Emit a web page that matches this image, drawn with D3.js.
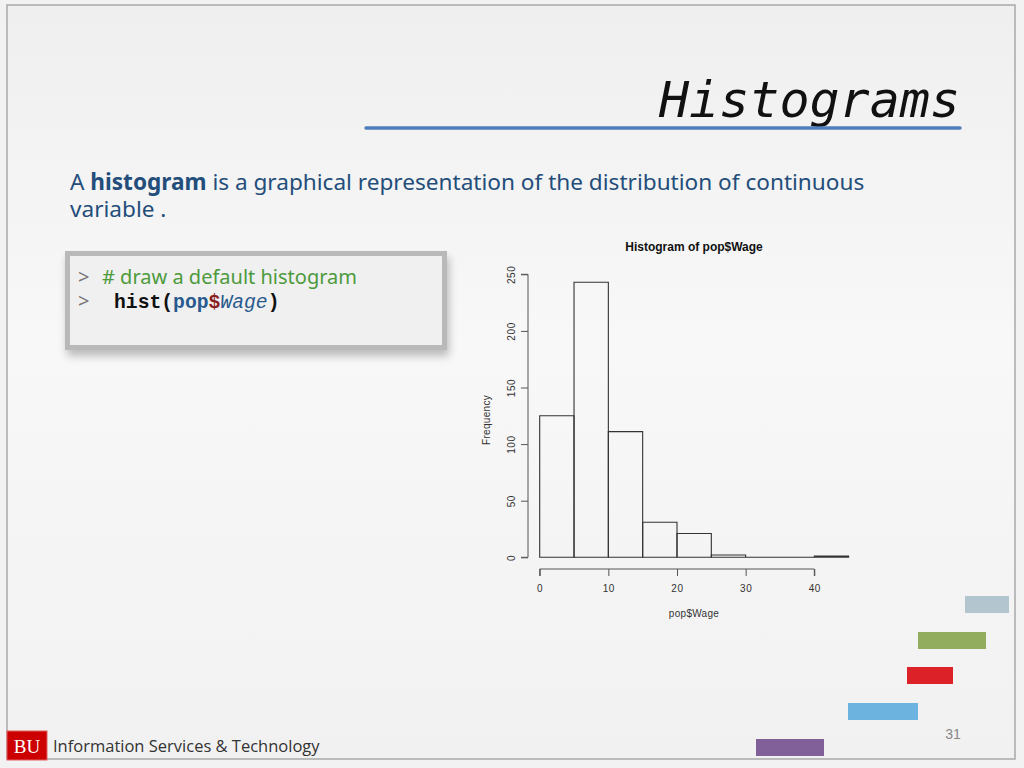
<!DOCTYPE html>
<html><head><meta charset="utf-8">
<script src="https://cdn.jsdelivr.net/npm/d3@7"></script>
<style>html,body{margin:0;padding:0;background:#f3f3f3;}svg{display:block;}</style>
</head><body>
<script>
// ---- data ----
const binBreaks = [0,5,10,15,20,25,30,35,40,45];
const binCounts = [125,243,111,31,21,2,0,0,1];
const xTickValues = [0,10,20,30,40];
const yTickValues = [0,50,100,150,200,250];
const chartTitle = "Histogram of pop$Wage";
const xLabel = "pop$Wage";
const yLabel = "Frequency";
const slideTitle = "Histograms";
const pageNumber = "31";
const decoColors = ["#b3c6cf","#93ad5e","#dc2128","#6db3df","#815f99"];

const W=1024,H=768;
const svg=d3.select("body").append("svg").attr("width",W).attr("height",H);
const defs=svg.append("defs");
const g=defs.append("linearGradient").attr("id","bg").attr("x1",0).attr("y1",0).attr("x2",0).attr("y2",1);
g.append("stop").attr("offset","0").attr("stop-color","#efefef");
g.append("stop").attr("offset","0.45").attr("stop-color","#f8f8f8");
g.append("stop").attr("offset","1").attr("stop-color","#f1f1f1");
const sh=defs.append("filter").attr("id","sh").attr("x","-10%").attr("y","-10%").attr("width","130%").attr("height","140%");
sh.append("feGaussianBlur").attr("in","SourceAlpha").attr("stdDeviation",4).attr("result","b");
sh.append("feOffset").attr("in","b").attr("dx",2).attr("dy",6).attr("result","o");
sh.append("feComponentTransfer").attr("in","o").attr("result","o2").append("feFuncA").attr("type","linear").attr("slope",0.25);
const mg=sh.append("feMerge");mg.append("feMergeNode").attr("in","o2");mg.append("feMergeNode").attr("in","SourceGraphic");

svg.append("rect").attr("width",W).attr("height",H).attr("fill","#f2f2f2");
svg.append("rect").attr("x",7).attr("y",5).attr("width",1008).attr("height",754).attr("fill","url(#bg)")
  .attr("stroke","#a9a9a9").attr("stroke-width",1.5);

// slide title
svg.append("text").attr("x",960).attr("y",117).attr("text-anchor","end")
  .attr("font-family","DejaVu Sans Mono").attr("font-style","italic").attr("font-size",50)
  .attr("fill","#111").text(slideTitle);
svg.append("line").attr("x1",366).attr("x2",960).attr("y1",128).attr("y2",128)
  .attr("stroke","#4f7fbb").attr("stroke-width",3.5).attr("stroke-linecap","round");

// body text
const body=svg.append("text").attr("font-family","Noto Sans, Open Sans, sans-serif").attr("font-size",22.6).attr("fill","#234d7a");
const l1=body.append("tspan").attr("x",70).attr("y",190);
l1.append("tspan").text("A ");
l1.append("tspan").attr("font-weight","bold").text("histogram");
l1.append("tspan").text(" is a graphical representation of the distribution of continuous");
body.append("tspan").attr("x",70).attr("y",217).text("variable .");

// code box
svg.append("rect").attr("x",67.5).attr("y",253.5).attr("width",377).attr("height",94)
  .attr("fill","#f0f0f0").attr("stroke","#b9b9b9").attr("stroke-width",5).attr("filter","url(#sh)");
const c1=svg.append("text").attr("x",78).attr("y",284).attr("font-family","Noto Sans, sans-serif").attr("font-size",20);
c1.append("tspan").attr("fill","#777").text(">");
c1.append("tspan").attr("fill","#4d9a3d").attr("x",102).text("# draw a default histogram");
svg.append("text").attr("x",78).attr("y",308).attr("font-family","Noto Sans, sans-serif").attr("font-size",20).attr("fill","#777").text(">");
const c2=svg.append("text").attr("x",114).attr("y",308).attr("font-family","Liberation Mono, monospace").attr("font-size",19.7).attr("font-weight","bold");
c2.append("tspan").attr("fill","#111").text("hist(");
c2.append("tspan").attr("fill","#285a8e").text("pop");
c2.append("tspan").attr("fill","#8a1d1d").text("$");
c2.append("tspan").attr("fill","#285a8e").attr("font-weight","normal").attr("font-style","italic").text("Wage");
c2.append("tspan").attr("fill","#111").text(")");

// histogram chart
const x=d3.scaleLinear().domain([0,40]).range([539.7,814.3]);
const y=d3.scaleLinear().domain([0,250]).range([557.3,274.3]);
const bins=binCounts.map((c,i)=>({x0:binBreaks[i],x1:binBreaks[i+1],n:c}));
const ch=svg.append("g");
ch.selectAll("path.bar").data(bins).join("path").attr("class","bar")
  .attr("d",d=>`M${x(d.x0)},${y(0)}V${y(d.n)}H${x(d.x1)}V${y(0)}Z`)
  .attr("fill","none").attr("stroke","#333").attr("stroke-width",1.1);

const font="Liberation Sans, Arial, sans-serif";
const xa=ch.append("g").attr("transform","translate(0,569)")
  .call(d3.axisBottom(x).tickValues(xTickValues).tickSize(7).tickPadding(9).tickFormat(d3.format("d")));
const ya=ch.append("g").attr("transform","translate(528,0)")
  .call(d3.axisLeft(y).tickValues(yTickValues).tickSize(7).tickFormat(d3.format("d")));
[xa,ya].forEach(a=>{a.select(".domain").attr("stroke","#555");a.selectAll(".tick line").attr("stroke","#555");
  a.selectAll("text").attr("font-family",font).attr("font-size",10).attr("fill","#333").attr("letter-spacing",0.6);});
xa.select(".domain").attr("d",`M${x(0)},7V0H${x(40)}V7`);
ya.select(".domain").attr("d",`M-7,${y(0)}H0V${y(250)}H-7`);
ya.selectAll(".tick text").attr("x",null).attr("dy",null).attr("text-anchor","middle")
  .attr("transform","translate(-17,0) rotate(-90)").attr("dy","0.35em");
ch.append("text").attr("x",694).attr("y",251).attr("text-anchor","middle").attr("font-family",font)
  .attr("font-weight","bold").attr("font-size",12).attr("fill","#111").text(chartTitle);
ch.append("text").attr("x",694).attr("y",617).attr("text-anchor","middle").attr("font-family",font)
  .attr("font-size",10).attr("fill","#333").attr("letter-spacing",0.3).text(xLabel);
ch.append("text").attr("transform","translate(490,420) rotate(-90)").attr("text-anchor","middle").attr("font-family",font)
  .attr("font-size",10).attr("fill","#333").attr("letter-spacing",0.3).text(yLabel);

// decorative bars
const deco=[{x:965,y:596,w:44},{x:918,y:632,w:68},{x:907,y:667,w:46},{x:848,y:703,w:70},{x:756,y:739,w:68}];
svg.selectAll("rect.deco").data(deco).join("rect").attr("class","deco")
  .attr("x",d=>d.x).attr("y",d=>d.y).attr("width",d=>d.w).attr("height",17)
  .attr("fill",(d,i)=>decoColors[i]);

svg.append("text").attr("x",953).attr("y",739).attr("text-anchor","middle").attr("font-family","Liberation Sans, Arial, sans-serif")
  .attr("font-size",14).attr("fill","#888").text(pageNumber);

// footer
svg.append("rect").attr("x",7).attr("y",731).attr("width",40).attr("height",29).attr("fill","#cc0000").attr("stroke","#e06060").attr("stroke-width",1);
svg.append("text").attr("x",27).attr("y",753).attr("text-anchor","middle").attr("font-family","Liberation Serif, serif")
  .attr("font-size",19).attr("fill","#fff").text("BU");
svg.append("text").attr("x",53).attr("y",752).attr("font-family","Open Sans, Lato, sans-serif").attr("font-size",16.5)
  .attr("fill","#333").text("Information Services & Technology");
</script>
</body></html>
